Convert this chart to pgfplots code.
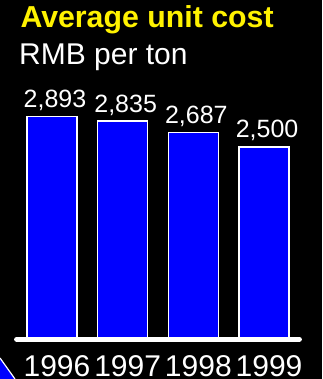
\documentclass[border=0pt]{standalone}
\usepackage{pgfplots}
\pgfplotsset{compat=1.18}
\usepackage{fontspec}
\setmainfont{Liberation Sans}
\definecolor{barblue}{RGB}{0,0,255}
\begin{document}
\begin{tikzpicture}[x=1pt,y=1pt]
\fill[black] (0,0) rectangle (322,379);
% decorative corner shape
\fill[barblue] (0,21) -- (15,0) -- (0,0) -- cycle;
\draw[white, line width=1.2pt] (0,21) -- (15,0);
% titles
\node[anchor=base west, inner sep=0pt, text=yellow, font=\fontsize{30.3}{34}\selectfont\bfseries] at (20.3,351) {Average unit cost};
\node[anchor=base west, inner sep=0pt, text=white, font=\fontsize{30}{34}\selectfont] at (19,314) {RMB per ton};
\begin{axis}[
  at={(16.6pt,39.7pt)}, anchor=south west,
  scale only axis, width=282.8pt, height=230.8pt,
  xmin=-0.5, xmax=3.5, ymin=0, ymax=3000,
  axis x line=bottom, axis y line=none,
  x axis line style={white, line width=5pt, line cap=round, -},
  axis on top,
  xtick={0,1,2,3}, xticklabels={1996,1997,1998,1999},
  major tick length=0pt,
  xticklabel style={anchor=base, inner sep=0pt, xshift=5pt, yshift=-37.3pt, text=white, font=\fontsize{30}{32}\selectfont},
  ytick=\empty,
  clip=false,
]
\addplot[ybar, bar width=50pt, fill=barblue, draw=white, line width=1.5pt,
  point meta=explicit symbolic,
  nodes near coords,
  nodes near coords style={anchor=base, inner sep=0pt, yshift=9pt, xshift=3pt, text=white, font=\fontsize{25}{28}\selectfont}]
  coordinates {(0,2893)[2,893] (1,2835)[2,835] (2,2687)[2,687] (3,2500)[2,500]};
\end{axis}
\pgfresetboundingbox
\path (0,0) rectangle (322,379);
\end{tikzpicture}
\end{document}
